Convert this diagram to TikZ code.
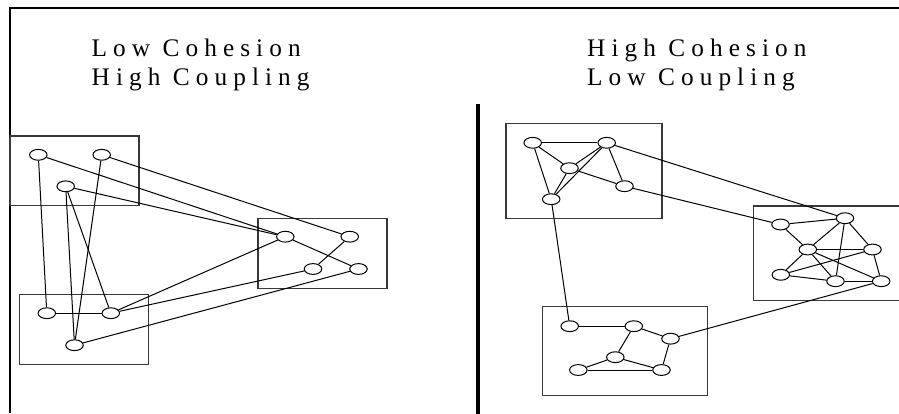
\documentclass[tikz,border=0pt]{standalone}
\usepackage{fontspec}
\usetikzlibrary{shapes.geometric}
\newfontfamily\titlefont[LetterSpace=24]{Liberation Serif}
\definecolor{boxgray}{HTML}{383838}
\tikzset{
  vert/.style={draw=black, ellipse, line width=1pt, minimum width=17.5pt, minimum height=10.8pt, inner sep=0pt},
  modbox/.style={draw=boxgray, line width=1.3pt},
  link/.style={draw=black, line width=1pt},
  frame/.style={draw=black, line width=2pt},
  divider/.style={draw=black, line width=4.3pt},
  ttl/.style={anchor=base west, inner sep=0pt, font=\titlefont\fontsize{25.3}{30}\selectfont}
}
\begin{document}
\begin{tikzpicture}[x=1pt,y=-1pt]
\useasboundingbox (0,0) rectangle (899,413);
\begin{scope}
\clip (0,0) rectangle (899,413);
% frame
\draw[frame] (10,413) -- (10,8.3) -- (905,8.3);
\draw[divider] (478,104) -- (478,420);

% titles
\node[ttl] (t1) at (91.5,56.7) {Low Cohesion};
\node[ttl] (t2) at (91.5,85) {High Coupling};
\node[ttl] (t3) at (587,56.7) {High Cohesion};
\node[ttl] (t4) at (587,85) {Low Coupling};

% ---------- left diagram ----------
\draw[modbox] (10,136) rectangle (139,205.5);
\draw[modbox] (258,218.3) rectangle (387,288.3);
\draw[modbox] (19.3,294.3) rectangle (148.3,364.3);

\node[vert] (A1) at (38.3,154.8) {};
\node[vert] (A2) at (101.7,154.8) {};
\node[vert] (A3) at (65.7,186.3) {};
\node[vert] (B1) at (285.3,236.7) {};
\node[vert] (B2) at (349.7,236.7) {};
\node[vert] (B3) at (313,269) {};
\node[vert] (B4) at (358.5,269) {};
\node[vert] (C1) at (46.8,313.2) {};
\node[vert] (C2) at (110.8,313.2) {};
\node[vert] (C3) at (74.5,345.2) {};

\draw[link] (A1) -- (C1);
\draw[link] (A1) -- (B1);
\draw[link] (A3) -- (B1);
\draw[link] (A2) -- (B2);
\draw[link] (A2) -- (C3);
\draw[link] (A3) -- (C3);
\draw[link] (A3) -- (C2);
\draw[link] (C1) -- (C2);
\draw[link] (C2) -- (B1);
\draw[link] (C2) -- (B3);
\draw[link] (C3) -- (B4);
\draw[link] (B1) -- (B4);
\draw[link] (B2) -- (B3);

% ---------- right diagram ----------
\draw[modbox] (506,123.3) rectangle (662,218.3);
\draw[modbox] (753.3,206) rectangle (910,300.7);
\draw[modbox] (542.3,306.7) rectangle (707.3,395.7);

\node[vert] (D1) at (532.7,142.8) {};
\node[vert] (D2) at (606.7,142.8) {};
\node[vert] (D3) at (569.5,168.2) {};
\node[vert] (D4) at (624.5,186.2) {};
\node[vert] (D5) at (551.2,199.2) {};

\node[vert] (E1) at (780.5,224.5) {};
\node[vert] (E2) at (845,218.2) {};
\node[vert] (E3) at (807.8,249.5) {};
\node[vert] (E4) at (872.5,249.5) {};
\node[vert] (E5) at (780.8,274.8) {};
\node[vert] (E6) at (835.5,281.2) {};
\node[vert] (E7) at (881.2,281.2) {};

\node[vert] (F1) at (569.7,326.2) {};
\node[vert] (F2) at (633.8,326.2) {};
\node[vert] (F3) at (670.5,338.7) {};
\node[vert] (F4) at (615.3,357.2) {};
\node[vert] (F5) at (578.3,370) {};
\node[vert] (F6) at (661.5,370) {};

\draw[link] (D1) -- (D2);
\draw[link] (D1) -- (D3);
\draw[link] (D3) -- (D4);
\draw[link] (D1) -- (D5);
\draw[link] (D2) -- (D3);
\draw[link] (D2) -- (D4);
\draw[link] (D2) -- (D5);
\draw[link] (D3) -- (D5);
\draw[link] (D2) -- (E2);
\draw[link] (D4) -- (E1);
\draw[link] (D5) -- (F1);

\draw[link] (E1) -- (E2);
\draw[link] (E1) -- (E3);
\draw[link] (E2) -- (E3);
\draw[link] (E2) -- (E4);
\draw[link] (E2) -- (E6);
\draw[link] (E3) -- (E4);
\draw[link] (E3) -- (E5);
\draw[link] (E3) -- (E6);
\draw[link] (E3) -- (E7);
\draw[link] (E5) -- (E4);
\draw[link] (E5) -- (E6);
\draw[link] (E6) -- (E7);
\draw[link] (E4) -- (E7);
\draw[link] (E7) -- (F3);

\draw[link] (F1) -- (F2);
\draw[link] (F2) -- (F3);
\draw[link] (F2) -- (F4);
\draw[link] (F3) -- (F6);
\draw[link] (F4) -- (F6);
\draw[link] (F4) -- (F5);
\draw[link] (F5) -- (F6);
\end{scope}
\end{tikzpicture}
\end{document}
